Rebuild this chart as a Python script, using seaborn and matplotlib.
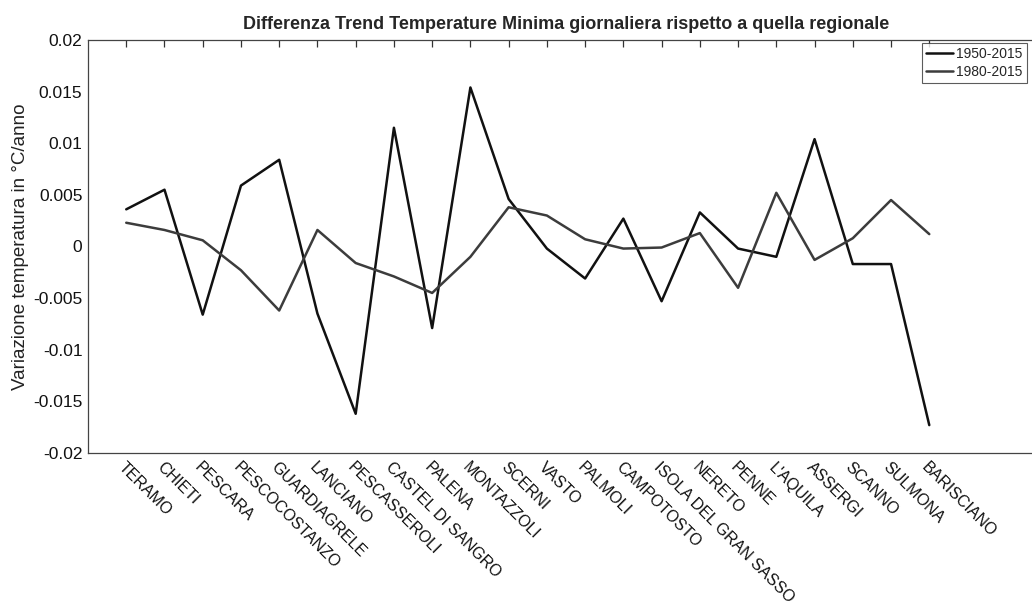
import numpy as np
import pandas as pd
import matplotlib
matplotlib.use("Agg")
import matplotlib.pyplot as plt
import seaborn as sns

stations = ["TERAMO", "CHIETI", "PESCARA", "PESCOCOSTANZO", "GUARDIAGRELE",
            "LANCIANO", "PESCASSEROLI", "CASTEL DI SANGRO", "PALENA",
            "MONTAZZOLI", "SCERNI", "VASTO", "PALMOLI", "CAMPOTOSTO",
            "ISOLA DEL GRAN SASSO", "NERETO", "PENNE", "L'AQUILA", "ASSERGI",
            "SCANNO", "SULMONA", "BARISCIANO"]

trend_1950_2015 = [0.0036, 0.0055, -0.0066, 0.0059, 0.0084, -0.0065, -0.0162,
                   0.0115, -0.0079, 0.0154, 0.0046, -0.0002, -0.0031, 0.0027,
                   -0.0053, 0.0033, -0.0002, -0.0010, 0.0104, -0.0017,
                   -0.0017, -0.0173]

trend_1980_2015 = [0.0023, 0.0016, 0.0006, -0.0023, -0.0062, 0.0016, -0.0016,
                   -0.0029, -0.0045, -0.0010, 0.0038, 0.0030, 0.0007, -0.0002,
                   -0.0001, 0.0013, -0.0040, 0.0052, -0.0013, 0.0008, 0.0045,
                   0.0012]

series_names = ["1950-2015", "1980-2015"]
y_ticks = [0.02, 0.015, 0.01, 0.005, 0, -0.005, -0.01, -0.015, -0.02]
y_tick_labels = ["0.02", "0.015", "0.01", "0.005", "0", "-0.005", "-0.01",
                 "-0.015", "-0.02"]

title = "Differenza Trend Temperature Minima giornaliera rispetto a quella regionale"
ylabel = "Variazione temperatura in °C/anno"

sns.set_style("white")
plt.rcParams['font.family'] = ['Liberation Sans', 'DejaVu Sans']

pos = np.arange(1, len(stations) + 1)
df = pd.DataFrame({
    "pos": np.concatenate([pos, pos]),
    "val": trend_1950_2015 + trend_1980_2015,
    "serie": [series_names[0]] * len(pos) + [series_names[1]] * len(pos),
})

fig = plt.figure(figsize=(10.32, 6.07), dpi=100)
ax = fig.add_axes([88 / 1032, 1 - 453 / 607, (1044 - 88) / 1032, (453 - 40) / 607])

sns.lineplot(data=df, x="pos", y="val", hue="serie", hue_order=series_names,
             palette=["#111111", "#3c3c3c"], linewidth=1.8, ax=ax,
             legend=True, sort=False)

ax.set_xlim(0, 25)
ax.set_ylim(-0.02, 0.02)
ax.set_xticks(pos)
ax.set_xticklabels(stations, rotation=-45, ha="left", va="top",
                   rotation_mode="anchor", fontsize=11.5)
ax.set_yticks(y_ticks)
ax.set_yticklabels(y_tick_labels, fontsize=12.5)
ax.tick_params(axis="both", direction="in", length=5, width=0.9,
               top=True, right=True, colors="#333333", labelcolor="#111111")
ax.tick_params(axis="x", pad=5)
ax.tick_params(axis="y", pad=4)
for sp in ax.spines.values():
    sp.set_color("#444444")
    sp.set_linewidth(0.9)

ax.set_xlabel("")
ax.set_ylabel(ylabel, fontsize=13.5, color="#222222", labelpad=3)
ax.set_title(title, fontsize=13, fontweight="bold", pad=8)

leg = ax.legend(loc="upper left", bbox_to_anchor=(922 / 1032, 1 - 43 / 607),
                bbox_transform=fig.transFigure,
                fontsize=10, frameon=True, fancybox=False,
                handlelength=1.9, borderpad=0.3, labelspacing=0.25,
                handletextpad=0.25, borderaxespad=0.0)
leg.get_frame().set_edgecolor("#333333")
leg.get_frame().set_linewidth(0.8)

fig.savefig("out.png", dpi=100)
